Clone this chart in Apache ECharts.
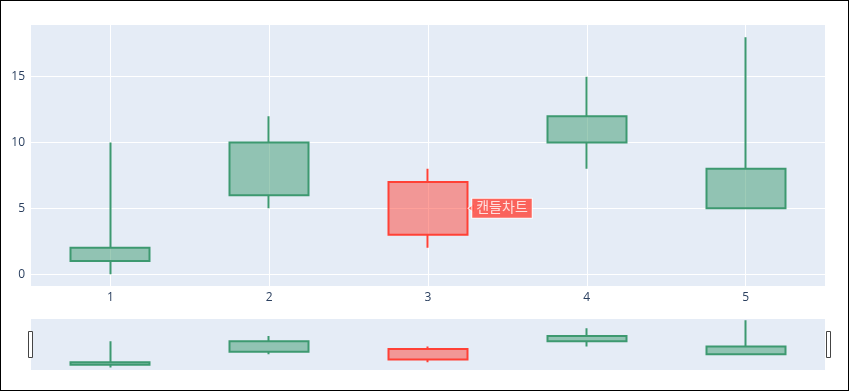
<!DOCTYPE html>
<html>
<head>
<meta charset="utf-8">
<script src="https://cdn.jsdelivr.net/npm/echarts@6/dist/echarts.min.js"></script>
<style>
  html, body { margin: 0; padding: 0; background: #fff; }
  #chart { width: 849px; height: 391px; border: 1px solid #000; box-sizing: border-box; }
</style>
</head>
<body>
<div id="chart"></div>
<script>
// candle data: [open, close, low, high]
var days = ['1', '2', '3', '4', '5'];
var openVals = [1, 6, 7, 10, 5];
var closeVals = [2, 10, 3, 12, 8];
var lowVals = [0, 5, 2, 8, 5];
var highVals = [10, 12, 8, 15, 18];
var hoverName = '캔들차트';
var hoverIndex = 2;
var hoverValue = 5;

var candles = [];
for (var i = 0; i < days.length; i++) {
    candles.push([openVals[i], closeVals[i], lowVals[i], highVals[i]]);
}

var up = '#3D9970', down = '#FF4136';
var candleStyle = {
    color: 'rgba(61,153,112,0.5)',
    color0: 'rgba(255,65,54,0.5)',
    borderColor: up,
    borderColor0: down,
    borderWidth: 2
};
var font = '"Open Sans", "Noto Sans CJK KR", sans-serif';

var option = {
    animation: false,
    textStyle: { fontFamily: font },
    grid: [
        { left: 30, right: 23, top: 23, height: 262, show: true, backgroundColor: '#E5ECF6', borderWidth: 0 },
        { left: 30, right: 23, top: 318, height: 51, show: true, backgroundColor: '#E5ECF6', borderWidth: 0 }
    ],
    xAxis: [
        {
            type: 'category', data: days, gridIndex: 0,
            axisLine: { show: false }, axisTick: { show: false },
            axisLabel: { color: '#2a3f5f', fontSize: 12, margin: 6 },
            splitLine: { show: true, alignWithLabel: true, lineStyle: { color: '#fff', width: 1 } }
        },
        {
            type: 'category', data: days, gridIndex: 1,
            axisLine: { show: false }, axisTick: { show: false }, axisLabel: { show: false },
            splitLine: { show: false }
        }
    ],
    yAxis: [
        {
            type: 'value', gridIndex: 0, min: -0.9, max: 19, splitNumber: 4,
            axisLine: { show: false }, axisTick: { show: false },
            axisLabel: { color: '#2a3f5f', fontSize: 12, margin: 6, showMinLabel: false, showMaxLabel: false },
            splitLine: { lineStyle: { color: '#fff', width: 1 } }
        },
        {
            type: 'value', gridIndex: 1, min: -1, max: 18.5,
            axisLine: { show: false }, axisTick: { show: false }, axisLabel: { show: false },
            splitLine: { show: false }
        }
    ],
    series: [
        {
            type: 'candlestick', xAxisIndex: 0, yAxisIndex: 0,
            data: candles, barWidth: '50%', itemStyle: candleStyle
        },
        {
            type: 'candlestick', xAxisIndex: 1, yAxisIndex: 1,
            data: candles, barWidth: '50%', itemStyle: candleStyle
        },
        {
            type: 'scatter', xAxisIndex: 0, yAxisIndex: 0,
            data: [[hoverIndex, hoverValue]],
            symbol: 'triangle', symbolSize: [9, 6], symbolRotate: 90, symbolOffset: [43, 0],
            itemStyle: { color: down, borderColor: '#fff', borderWidth: 1 },
            label: {
                show: true, position: 'inside', offset: [31, 0],
                formatter: hoverName, color: '#fff', fontSize: 14,
                fontFamily: font,
                backgroundColor: down, borderColor: '#fff', borderWidth: 1,
                padding: [3, 4, 2, 4]
            },
            z: 10
        }
    ],
    graphic: [
        { type: 'rect', left: 27, top: 330, shape: { width: 4, height: 26 }, style: { fill: '#fff', stroke: '#444', lineWidth: 1 } },
        { type: 'rect', left: 825, top: 330, shape: { width: 4, height: 26 }, style: { fill: '#fff', stroke: '#444', lineWidth: 1 } }
    ]
};

var chart = echarts.init(document.getElementById('chart'));
chart.setOption(option);
</script>
</body>
</html>
